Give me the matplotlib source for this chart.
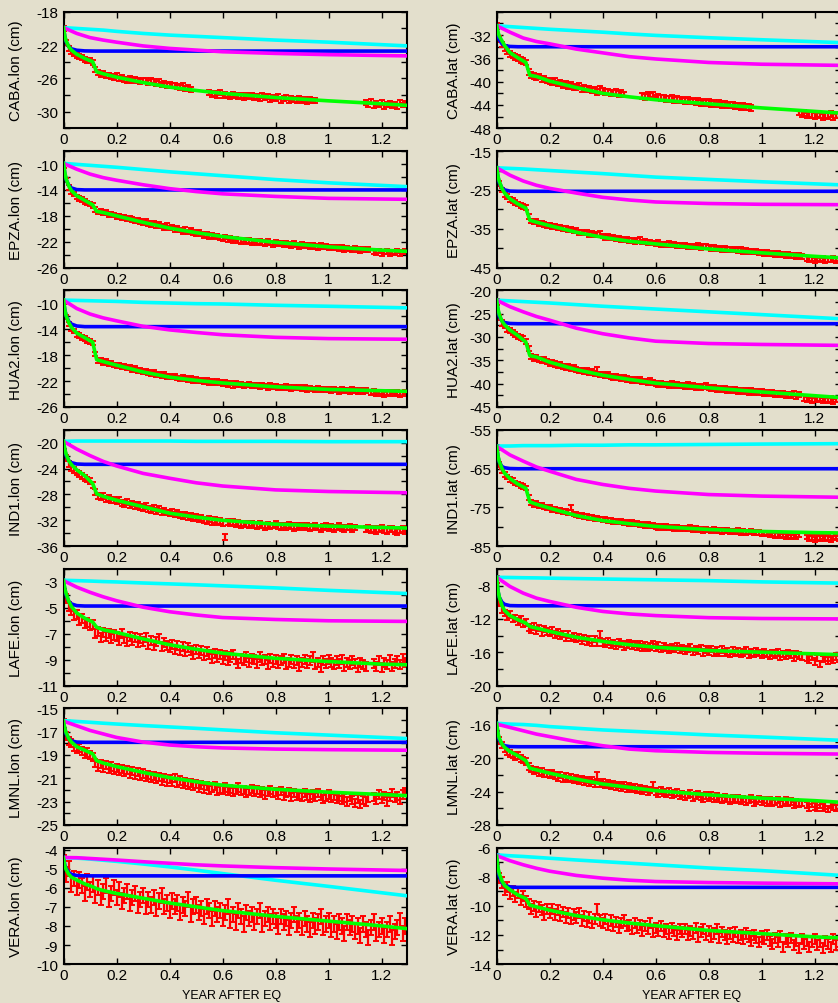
import numpy as np
import matplotlib.pyplot as plt
from matplotlib.ticker import MultipleLocator

plt.rcParams['font.family'] = ['Liberation Sans', 'DejaVu Sans']
plt.rcParams['axes.unicode_minus'] = False

BG = '#e3dfcc'

STATIONS = ['CABA', 'EPZA', 'HUA2', 'IND1', 'LAFE', 'LMNL', 'VERA']

# time grids of the model curves (year after EQ)
t_slow = [0, 0.05, 0.1, 0.15, 0.2, 0.3, 0.4, 0.5, 0.6, 0.8, 1.0, 1.3]
t_fast = [0, 0.005, 0.01, 0.02, 0.03, 0.05, 0.08, 0.12, 1.3]
t_fit = [0, 0.005, 0.01, 0.02, 0.03, 0.05, 0.08, 0.11, 0.125, 0.15, 0.2,
         0.3, 0.4, 0.5, 0.6, 0.8, 1.0, 1.2, 1.3]

xtick_vals = [0, 0.2, 0.4, 0.6, 0.8, 1.0, 1.2]
xtick_labels = ['0', '0.2', '0.4', '0.6', '0.8', '1', '1.2']

# ---------------- CABA ----------------
caba_lon_cyan = [-19.9, -20.0, -20.1, -20.2, -20.35, -20.6, -20.8, -20.95, -21.1, -21.4, -21.65, -22.1]
caba_lon_mag = [-19.9, -20.6, -21.1, -21.4, -21.65, -22.1, -22.4, -22.6, -22.8, -23.0, -23.15, -23.3]
caba_lon_blue = [-19.9, -21.0, -21.6, -22.2, -22.45, -22.62, -22.7, -22.72, -22.72]
caba_lon_fit = [-19.9, -20.9, -21.5, -22.2, -22.6, -23.1, -23.6, -24.0, -25.2, -25.45, -25.85,
                -26.5, -27.05, -27.45, -27.8, -28.3, -28.7, -29.05, -29.25]
caba_lon_start = [0.0, 0.55, 1.14]
caba_lon_obs = [
    [-20.0, -21.7, -22.4, -22.8, -23.0, -23.3, -23.4, -23.5, -23.7, -23.8,
     -23.9, -24.1, -24.9, -25.3, -25.5, -25.4, -25.7, -25.6, -25.8, -25.9,
     -25.7, -26.0, -25.9, -26.1, -26.2, -26.0, -26.3, -26.1, -26.2, -26.4,
     -26.2, -26.3, -26.5, -26.3, -26.4, -26.6, -26.4, -26.7, -26.6, -26.8,
     -26.7, -26.9, -26.8, -27.0, -27.1, -26.9, -27.2, -27.1, -27.3],
    [-27.7, -27.9, -27.8, -28.0, -27.7, -28.1, -27.9, -28.0, -28.2, -27.9,
     -28.1, -28.2, -28.0, -28.3, -28.1, -28.2, -28.0, -28.3, -28.2, -28.4,
     -28.1, -28.3, -28.2, -28.5, -28.3, -28.4, -28.2, -28.6, -28.4, -28.3,
     -28.6, -28.4, -28.5, -28.7, -28.4, -28.6, -28.5, -28.8, -28.5, -28.7, -28.6],
    [-28.9, -29.1, -28.8, -29.3, -29.0, -29.2, -28.9, -29.4, -29.1, -29.0,
     -29.3, -29.1, -29.4, -28.9, -29.2, -29.0],
]
caba_lon_err = 0.3

caba_lat_cyan = [-30.4, -30.55, -30.7, -30.85, -31.0, -31.25, -31.5, -31.8, -32.05, -32.45, -32.8, -33.3]
caba_lat_mag = [-30.4, -31.5, -32.5, -33.1, -33.5, -34.4, -35.05, -35.7, -36.1, -36.7, -37.0, -37.2]
caba_lat_blue = [-30.4, -32.0, -32.8, -33.5, -33.8, -33.95, -34.0, -34.0, -34.0]
caba_lat_fit = [-30.4, -31.5, -32.2, -33.0, -33.8, -35.0, -35.9, -36.7, -38.9, -39.1, -39.9,
                -41.0, -42.0, -42.6, -43.1, -43.8, -44.5, -45.1, -45.4]
caba_lat_start = [0.0, 0.55, 1.14]
caba_lat_obs = [
    [-30.5, -32.6, -33.6, -34.2, -34.8, -35.2, -35.5, -35.8, -36.0, -36.3,
     -36.4, -36.7, -38.3, -38.9, -39.0, -39.2, -39.1, -39.5, -39.6, -39.8,
     -39.9, -40.1, -39.9, -40.3, -40.2, -40.5, -40.4, -40.7, -40.6, -40.9,
     -41.0, -40.8, -41.2, -41.1, -41.3, -41.2, -41.5, -41.4, -41.7, -41.3,
     -41.6, -41.8, -41.7, -41.9, -42.0, -41.8, -42.1, -42.0, -42.2],
    [-42.4, -42.6, -42.3, -42.5, -42.2, -42.7, -42.6, -42.8, -42.7, -42.9,
     -43.0, -42.8, -43.1, -43.0, -43.2, -43.1, -43.3, -43.2, -43.4, -43.3,
     -43.5, -43.3, -43.6, -43.4, -43.7, -43.5, -43.8, -43.6, -43.9, -43.7,
     -44.0, -43.8, -44.1, -44.0, -43.9, -44.2, -44.1, -44.3, -44.2, -44.4,
     -44.3, -44.5],
    [-45.3, -45.6, -45.4, -45.8, -45.5, -45.7, -45.9, -45.6, -45.8, -46.0,
     -45.7, -45.9, -45.6, -46.0, -45.8, -45.7],
]
caba_lat_err = 0.5

# ---------------- EPZA ----------------
epza_lon_cyan = [-9.9, -10.05, -10.2, -10.35, -10.5, -10.85, -11.2, -11.5, -11.8, -12.4, -12.9, -13.5]
epza_lon_mag = [-9.9, -10.8, -11.55, -12.1, -12.5, -13.2, -13.8, -14.25, -14.6, -15.0, -15.3, -15.45]
epza_lon_blue = [-9.9, -11.5, -12.4, -13.3, -13.7, -13.95, -14.0, -14.0, -14.0]
epza_lon_fit = [-9.9, -11.3, -12.3, -13.4, -14.1, -14.9, -15.6, -16.3, -17.3, -17.5, -18.0,
                -19.0, -19.9, -20.6, -21.2, -22.1, -22.8, -23.3, -23.5]
epza_lon_start = [0.0, 1.17]
epza_lon_obs = [
    [-10.3, -12.5, -13.6, -14.3, -14.6, -15.1, -15.3, -15.5, -15.8, -16.0,
     -16.2, -16.4, -17.0, -17.4, -17.3, -17.6, -17.5, -17.8, -17.7, -17.9,
     -18.1, -18.0, -18.3, -18.2, -18.5, -18.4, -18.6, -18.8, -18.7, -18.9,
     -19.1, -18.9, -19.2, -19.4, -19.1, -19.5, -19.3, -19.6, -19.8, -19.5,
     -19.9, -19.7, -20.1, -19.9, -20.2, -20.4, -20.1, -20.5, -20.3, -20.6,
     -20.7, -20.5, -20.8, -21.0, -20.9, -21.2, -21.0, -21.3, -21.1, -21.4,
     -21.5, -21.3, -21.7, -21.5, -21.9, -21.6, -21.8, -22.0, -21.7, -22.0,
     -21.8, -22.1, -21.9, -22.2, -22.0, -22.1, -22.3, -22.0, -22.2, -22.4,
     -22.1, -22.3, -22.2, -22.5, -22.3, -22.4, -22.6, -22.3, -22.5, -22.7,
     -22.4, -22.6, -22.5, -22.8, -22.6, -22.7, -22.9, -22.6, -22.8, -22.7,
     -22.9, -22.8, -23.0, -22.8, -23.1, -22.9, -23.2, -23.0, -23.1, -23.3,
     -23.0, -23.2, -23.4, -23.1, -23.3, -23.2],
    [-23.5, -23.7, -23.4, -23.8, -23.6, -23.5, -23.9, -23.6, -23.7, -23.4,
     -23.8, -23.6, -23.5],
]
epza_lon_err = 0.35

epza_lat_cyan = [-19.3, -19.45, -19.6, -19.8, -20.0, -20.4, -20.8, -21.25, -21.7, -22.3, -22.9, -23.7]
epza_lat_mag = [-19.3, -21.2, -22.7, -23.8, -24.6, -25.8, -26.9, -27.6, -28.1, -28.5, -28.7, -28.8]
epza_lat_blue = [-19.3, -21.8, -23.2, -24.5, -25.0, -25.3, -25.35, -25.35, -25.35]
epza_lat_fit = [-19.3, -21.5, -22.8, -24.6, -25.8, -27.3, -28.6, -29.7, -32.8, -33.3, -34.2,
                -35.9, -37.2, -38.2, -38.9, -40.2, -41.2, -42.1, -42.5]
epza_lat_start = [0.0, 1.17]
epza_lat_obs = [
    [-19.6, -23.4, -25.0, -26.1, -26.7, -27.4, -27.8, -28.3, -28.6, -29.0,
     -29.3, -29.5, -31.8, -33.0, -33.3, -33.2, -33.6, -33.5, -33.9, -34.1,
     -34.0, -34.4, -34.3, -34.7, -34.6, -35.0, -34.9, -35.3, -35.2, -35.6,
     -35.5, -35.9, -35.8, -36.1, -36.0, -36.4, -36.2, -36.6, -36.5, -36.3,
     -36.9, -37.2, -37.0, -37.4, -37.3, -37.6, -37.5, -37.7, -37.9, -37.6,
     -38.1, -37.9, -38.2, -38.0, -37.6, -38.4, -38.3, -38.6, -38.4, -38.7,
     -38.8, -38.6, -39.0, -38.9, -39.1, -38.8, -39.2, -39.0, -39.3, -39.2,
     -39.4, -39.3, -39.6, -39.4, -39.7, -39.5, -39.2, -39.8, -39.6, -39.4,
     -39.7, -40.0, -39.8, -40.2, -40.0, -40.3, -40.1, -40.4, -40.2, -40.5,
     -40.3, -40.6, -40.4, -40.8, -40.6, -40.9, -40.7, -41.0, -40.8, -41.1,
     -41.0, -41.3, -41.1, -41.5, -41.3, -41.6, -41.4, -41.7, -41.5, -41.8,
     -41.7, -42.0, -41.8, -42.2, -41.9, -42.1],
    [-42.6, -42.9, -42.7, -43.1, -42.8, -43.0, -42.7, -43.2, -42.9, -43.0,
     -42.6, -43.1, -42.8],
]
epza_lat_err = 0.6

# ---------------- HUA2 ----------------
hua2_lon_cyan = [-9.5, -9.55, -9.6, -9.65, -9.7, -9.85, -9.95, -10.05, -10.1, -10.3, -10.45, -10.7]
hua2_lon_mag = [-9.5, -10.8, -11.65, -12.25, -12.7, -13.55, -14.1, -14.5, -14.85, -15.25, -15.45, -15.55]
hua2_lon_blue = [-9.5, -11.0, -11.9, -12.8, -13.2, -13.5, -13.6, -13.6, -13.6]
hua2_lon_fit = [-9.5, -11.0, -11.9, -13.0, -13.7, -14.6, -15.3, -16.0, -18.7, -19.0, -19.55,
                -20.6, -21.4, -21.9, -22.3, -22.9, -23.3, -23.5, -23.6]
hua2_lon_start = [0.0, 1.16]
hua2_lon_obs = [
    [-9.8, -12.1, -13.2, -13.9, -14.3, -14.8, -15.0, -15.3, -15.4, -15.7,
     -15.9, -16.1, -17.8, -18.9, -18.8, -19.1, -19.0, -19.3, -19.2, -19.5,
     -19.6, -19.5, -19.8, -19.7, -20.0, -19.9, -20.2, -20.1, -20.4, -20.3,
     -20.6, -20.5, -20.7, -20.9, -20.7, -21.0, -20.9, -21.2, -21.0, -21.3,
     -21.2, -21.4, -21.3, -21.5, -21.7, -21.4, -21.6, -21.8, -21.6, -21.9,
     -21.8, -22.0, -21.9, -22.1, -21.9, -22.2, -22.0, -22.3, -22.1, -22.2,
     -22.4, -22.2, -22.5, -22.3, -22.7, -22.4, -22.6, -22.5, -22.7, -22.6,
     -22.5, -22.8, -22.6, -22.7, -22.9, -22.6, -22.8, -23.0, -22.7, -22.9,
     -22.8, -23.0, -22.9, -23.1, -22.8, -23.0, -23.2, -22.9, -23.1, -23.0,
     -23.2, -23.0, -23.3, -23.1, -23.2, -23.4, -23.1, -23.3, -23.2, -23.4,
     -23.3, -23.5, -23.2, -23.4, -23.6, -23.3, -23.5, -23.4, -23.6, -23.3,
     -23.5, -23.7, -23.4, -23.6, -23.5],
    [-23.8, -23.6, -24.0, -23.7, -23.9, -24.1, -23.8, -23.9, -23.7, -24.0,
     -23.8, -24.1, -23.9, -23.7],
]
hua2_lon_err = 0.35

hua2_lat_cyan = [-22.1, -22.25, -22.4, -22.55, -22.7, -23.05, -23.4, -23.7, -24.0, -24.6, -25.2, -26.1]
hua2_lat_mag = [-22.1, -23.5, -24.6, -25.6, -26.4, -28.1, -29.3, -30.2, -30.9, -31.4, -31.6, -31.8]
hua2_lat_blue = [-22.1, -24.3, -25.6, -26.6, -26.9, -27.1, -27.15, -27.15, -27.15]
hua2_lat_fit = [-22.1, -24.0, -25.2, -26.6, -27.4, -28.5, -29.7, -31.1, -34.0, -34.3, -35.4,
                -37.0, -38.2, -39.1, -39.9, -40.9, -41.8, -42.6, -43.0]
hua2_lat_start = [0.0, 1.16]
hua2_lat_obs = [
    [-22.5, -25.8, -27.0, -27.6, -28.3, -28.6, -29.1, -29.4, -29.8, -30.1,
     -30.4, -30.9, -32.5, -34.2, -34.5, -34.4, -34.8, -35.1, -34.9, -35.3,
     -35.6, -35.4, -35.8, -36.1, -35.9, -36.3, -36.5, -36.4, -36.8, -36.6,
     -37.0, -37.2, -37.1, -37.4, -37.3, -37.6, -37.5, -37.8, -37.0, -38.0,
     -38.1, -38.3, -38.0, -38.4, -38.6, -38.5, -38.7, -38.9, -38.6, -39.0,
     -39.1, -39.3, -39.2, -39.4, -39.2, -39.6, -39.5, -39.7, -39.3, -39.8,
     -39.9, -40.1, -40.0, -40.2, -40.1, -40.3, -40.0, -40.4, -40.2, -40.5,
     -40.4, -40.6, -40.3, -40.7, -40.5, -40.8, -40.6, -40.9, -40.7, -40.5,
     -40.9, -41.1, -40.8, -41.2, -41.0, -41.3, -41.1, -41.4, -41.2, -41.5,
     -41.3, -41.6, -41.4, -41.7, -41.5, -41.8, -41.6, -41.9, -41.7, -42.0,
     -41.8, -42.1, -41.9, -42.2, -42.0, -42.3, -42.1, -42.4, -42.2, -42.5,
     -42.3, -42.6, -42.2, -42.7, -42.4],
    [-43.1, -43.4, -43.2, -43.6, -43.3, -43.5, -43.2, -43.7, -43.4, -43.6,
     -43.3, -43.8, -43.5, -43.4],
]
hua2_lat_err = 0.55

# ---------------- IND1 ----------------
ind1_lon_cyan = [-19.8, -19.75, -19.75, -19.75, -19.75, -19.75, -19.75, -19.8, -19.8, -19.8, -19.85, -19.85]
ind1_lon_mag = [-19.8, -21.0, -22.0, -22.9, -23.6, -24.75, -25.5, -26.2, -26.7, -27.3, -27.55, -27.75]
ind1_lon_blue = [-19.8, -21.2, -22.0, -22.8, -23.1, -23.3, -23.35, -23.35, -23.35]
ind1_lon_fit = [-19.8, -21.0, -21.8, -22.8, -23.4, -24.2, -25.1, -26.3, -27.9, -28.3, -28.9,
                -29.9, -30.9, -31.5, -32.0, -32.6, -32.9, -33.1, -33.2]
ind1_lon_start = [0.0, 1.14]
ind1_lon_obs = [
    [-20.6, -22.4, -23.3, -23.9, -24.2, -24.6, -24.9, -25.1, -25.5, -25.7,
     -25.9, -26.5, -27.6, -28.2, -28.4, -28.3, -28.7, -28.6, -28.9, -28.8,
     -29.1, -28.9, -29.3, -29.5, -29.2, -29.6, -29.4, -29.8, -29.6, -29.9,
     -30.1, -29.8, -30.2, -30.4, -30.1, -30.5, -30.3, -30.7, -30.5, -30.8,
     -30.9, -30.7, -31.1, -30.9, -31.2, -31.4, -31.1, -31.5, -31.3, -31.6,
     -31.5, -31.8, -31.6, -31.9, -32.1, -31.8, -32.2, -32.0, -32.3, -32.1,
     -32.4, -34.6, -32.3, -32.5, -32.2, -32.6, -32.4, -32.7, -32.5, -32.6,
     -32.8, -32.5, -32.7, -32.9, -32.6, -32.8, -33.0, -32.7, -32.9, -32.8,
     -32.6, -32.9, -33.1, -32.8, -33.0, -32.7, -32.9, -33.2, -32.9, -33.0,
     -32.8, -33.1, -32.9, -33.2, -33.0, -32.8, -33.1, -33.3, -33.0, -32.9,
     -33.2, -33.0, -33.3, -33.1, -32.9, -33.2, -33.4, -33.1, -33.0, -33.3,
     -33.1],
    [-33.4, -33.2, -33.5, -33.3, -33.6, -33.4, -33.2, -33.5, -33.7, -33.4,
     -33.3, -33.6, -33.8, -33.5, -33.3, -33.6],
]
ind1_lon_err = 0.45

ind1_lat_cyan = [-59.2, -59.2, -59.1, -59.1, -59.1, -59.0, -59.0, -58.9, -58.9, -58.8, -58.7, -58.6]
ind1_lat_mag = [-59.3, -61.5, -63.1, -64.6, -65.7, -67.8, -69.1, -70.1, -70.8, -71.7, -72.1, -72.4]
ind1_lat_blue = [-59.3, -62.0, -63.4, -64.5, -64.8, -65.0, -65.05, -65.05, -65.05]
ind1_lat_fit = [-59.3, -61.8, -63.2, -65.0, -66.2, -67.6, -69.0, -70.1, -73.6, -74.2, -75.2,
                -77.1, -78.4, -79.2, -79.9, -80.7, -81.2, -81.5, -81.6]
ind1_lat_start = [0.0, 1.17]
ind1_lat_obs = [
    [-59.6, -64.0, -65.6, -66.5, -67.2, -67.8, -68.1, -68.7, -69.0, -69.3,
     -69.6, -70.0, -72.4, -73.8, -74.3, -74.0, -74.6, -74.5, -74.9, -75.2,
     -75.0, -75.5, -75.4, -75.8, -75.7, -76.1, -76.0, -76.4, -75.1, -76.7,
     -76.9, -77.2, -77.0, -77.4, -77.3, -77.6, -77.5, -77.9, -77.7, -78.0,
     -78.2, -78.0, -78.4, -78.3, -78.6, -78.5, -78.8, -78.6, -79.0, -78.8,
     -79.1, -78.9, -79.3, -79.2, -79.5, -79.3, -79.6, -79.4, -79.8, -79.6,
     -79.9, -80.1, -79.8, -80.2, -80.0, -80.3, -80.1, -80.4, -80.2, -80.5,
     -80.3, -80.6, -80.4, -80.1, -80.7, -80.5, -80.8, -80.6, -80.9, -80.7,
     -80.8, -81.0, -80.7, -81.1, -80.9, -81.2, -81.0, -80.8, -81.3, -81.1,
     -81.2, -81.0, -81.4, -81.2, -81.5, -81.3, -81.1, -81.6, -81.4, -81.5,
     -81.7, -81.9, -81.6, -82.1, -81.8, -82.3, -82.0, -82.4, -82.1, -82.5,
     -82.3, -82.6, -82.2, -82.5, -82.1],
    [-82.6, -83.0, -82.7, -83.2, -82.8, -83.1, -82.5, -83.0, -82.7, -83.3,
     -82.9, -82.6, -83.0],
]
ind1_lat_err = 0.6

# ---------------- LAFE ----------------
lafe_lon_cyan = [-2.87, -2.9, -2.93, -2.97, -3.0, -3.08, -3.15, -3.22, -3.3, -3.46, -3.65, -3.9]
lafe_lon_mag = [-2.9, -3.4, -3.8, -4.15, -4.45, -4.95, -5.3, -5.55, -5.75, -5.9, -6.0, -6.05]
lafe_lon_blue = [-2.9, -3.6, -4.0, -4.5, -4.7, -4.83, -4.86, -4.86, -4.86]
lafe_lon_fit = [-2.9, -3.5, -3.9, -4.5, -4.9, -5.4, -5.8, -6.1, -6.5, -6.7, -6.9,
                -7.4, -7.85, -8.2, -8.5, -8.9, -9.15, -9.35, -9.4]
lafe_lon_start = [0.0, 1.17]
lafe_lon_obs = [
    [-3.2, -4.3, -4.9, -5.2, -5.6, -5.5, -6.0, -5.8, -6.2, -6.1,
     -6.4, -6.3, -7.0, -6.8, -7.3, -6.9, -7.2, -7.0, -7.4, -7.1,
     -7.2, -7.5, -7.0, -7.4, -7.6, -7.2, -7.5, -7.3, -7.7, -7.4,
     -7.6, -7.3, -7.8, -7.5, -7.9, -7.6, -7.4, -8.0, -7.7, -7.9,
     -8.1, -7.8, -8.2, -7.9, -8.3, -8.0, -8.4, -8.1, -8.3, -8.6,
     -8.2, -8.5, -8.3, -8.7, -8.4, -8.6, -8.9, -8.5, -8.8, -8.6,
     -9.0, -8.7, -9.1, -8.8, -8.6, -9.0, -9.3, -8.9, -9.1, -8.8,
     -9.2, -8.9, -9.0, -9.3, -8.8, -9.1, -9.0, -9.4, -8.9, -9.2,
     -9.0, -9.3, -9.1, -8.9, -9.4, -9.2, -9.0, -9.3, -9.1, -9.5,
     -9.2, -9.0, -9.3, -9.1, -8.8, -9.4, -9.2, -9.6, -9.1, -9.3,
     -9.0, -9.2, -9.4, -9.1, -9.3, -9.0, -9.5, -9.2, -9.4, -9.1,
     -9.3, -9.6, -9.2, -9.4, -9.5],
    [-9.3, -9.5, -9.1, -9.6, -9.2, -9.4, -9.0, -9.5, -9.3, -9.1,
     -9.4, -8.9, -9.2],
]
lafe_lon_err = 0.35

lafe_lat_cyan = [-7.0, -7.02, -7.05, -7.07, -7.1, -7.15, -7.2, -7.25, -7.3, -7.4, -7.55, -7.7]
lafe_lat_mag = [-7.0, -8.1, -8.9, -9.5, -9.9, -10.6, -11.1, -11.4, -11.6, -11.85, -11.95, -12.0]
lafe_lat_blue = [-7.0, -8.7, -9.4, -10.0, -10.25, -10.4, -10.42, -10.42, -10.42]
lafe_lat_fit = [-7.0, -8.6, -9.4, -10.4, -11.0, -11.6, -12.1, -12.5, -12.9, -13.1, -13.5,
                -14.2, -14.7, -15.1, -15.4, -15.8, -16.0, -16.2, -16.3]
lafe_lat_start = [0.0, 1.17]
lafe_lat_obs = [
    [-7.3, -10.0, -10.9, -11.3, -11.7, -11.5, -12.0, -11.9, -12.3, -12.1,
     -12.6, -12.4, -13.0, -13.3, -12.9, -13.4, -13.1, -13.6, -13.2, -13.5,
     -13.7, -13.4, -13.9, -13.6, -14.0, -13.8, -14.2, -13.9, -14.3, -14.1,
     -14.4, -14.2, -14.6, -14.3, -14.7, -14.5, -14.8, -14.4, -14.9, -13.9,
     -14.8, -15.0, -14.7, -15.1, -14.9, -15.2, -14.8, -15.0, -15.3, -15.1,
     -14.9, -15.2, -15.0, -15.3, -15.1, -15.4, -15.2, -15.5, -15.3, -15.1,
     -15.4, -15.2, -15.6, -15.3, -15.5, -15.7, -15.4, -15.6, -15.3, -15.7,
     -15.5, -15.8, -15.6, -15.4, -15.9, -15.6, -15.8, -15.5, -16.0, -15.7,
     -15.9, -15.6, -16.0, -15.8, -16.1, -15.7, -16.0, -15.9, -16.2, -15.8,
     -16.1, -15.9, -16.2, -16.0, -15.8, -16.3, -16.0, -16.2, -15.9, -16.1,
     -16.3, -16.0, -16.2, -16.4, -16.1, -16.3, -16.0, -16.5, -16.2, -16.4,
     -16.1, -16.3, -16.6, -16.2, -16.4, -16.5],
    [-16.6, -16.9, -16.5, -17.1, -16.7, -17.4, -16.8, -16.6, -17.0, -16.7,
     -16.9, -16.5, -16.8],
]
lafe_lat_err = 0.4

# ---------------- LMNL ----------------
lmnl_lon_cyan = [-16.05, -16.13, -16.2, -16.28, -16.35, -16.48, -16.6, -16.72, -16.85, -17.1, -17.3, -17.6]
lmnl_lon_mag = [-16.1, -16.5, -16.9, -17.2, -17.5, -17.9, -18.15, -18.3, -18.4, -18.5, -18.55, -18.6]
lmnl_lon_blue = [-16.1, -16.8, -17.2, -17.6, -17.8, -17.9, -17.92, -17.92, -17.92]
lmnl_lon_fit = [-16.1, -16.7, -17.1, -17.6, -17.9, -18.3, -18.6, -18.9, -19.5, -19.7, -20.0,
                -20.5, -20.95, -21.3, -21.6, -21.95, -22.2, -22.4, -22.5]
lmnl_lon_start = [0.0, 1.17]
lmnl_lon_obs = [
    [-16.3, -17.4, -17.8, -18.0, -18.3, -18.5, -18.4, -18.7, -18.9, -18.8,
     -19.0, -19.2, -19.7, -20.0, -19.8, -20.1, -19.9, -20.2, -20.0, -20.3,
     -20.1, -20.4, -20.2, -20.5, -20.3, -20.6, -20.4, -20.7, -20.5, -20.8,
     -20.6, -20.9, -20.7, -21.0, -20.8, -21.1, -20.9, -21.2, -21.0, -21.3,
     -21.1, -21.3, -21.0, -21.4, -21.2, -21.5, -21.3, -21.6, -21.4, -21.7,
     -21.5, -21.8, -21.6, -21.9, -21.7, -22.0, -21.8, -21.7, -22.1, -21.9,
     -22.0, -21.8, -22.1, -21.9, -22.2, -22.0, -21.8, -22.1, -22.0, -22.3,
     -22.1, -21.9, -22.2, -22.0, -22.3, -22.1, -22.4, -22.2, -22.0, -22.3,
     -22.2, -22.4, -22.1, -22.5, -22.3, -22.2, -22.6, -22.3, -22.5, -22.4,
     -22.6, -22.3, -22.5, -22.7, -22.4, -22.6, -22.3, -22.5, -22.8, -22.6,
     -22.4, -22.7, -22.5, -22.8, -22.6, -22.9, -22.7, -23.0, -22.6, -22.9,
     -23.1, -22.8, -23.2, -22.9, -23.0, -22.7],
    [-22.6, -22.9, -22.4, -22.8, -22.5, -23.0, -22.6, -22.3, -22.7, -22.5,
     -22.9, -22.4, -22.2],
]
lmnl_lon_err = 0.35

lmnl_lat_cyan = [-15.8, -15.9, -15.95, -16.05, -16.2, -16.4, -16.6, -16.75, -16.9, -17.2, -17.45, -17.85]
lmnl_lat_mag = [-15.9, -16.3, -16.7, -17.1, -17.4, -18.0, -18.5, -18.9, -19.1, -19.3, -19.4, -19.5]
lmnl_lat_blue = [-15.9, -17.2, -17.8, -18.3, -18.5, -18.6, -18.62, -18.62, -18.62]
lmnl_lat_fit = [-15.9, -17.0, -17.6, -18.3, -18.7, -19.2, -19.7, -20.3, -21.2, -21.4, -21.8,
                -22.5, -23.1, -23.5, -23.9, -24.4, -24.8, -25.1, -25.3]
lmnl_lat_start = [0.0, 1.17]
lmnl_lat_obs = [
    [-16.3, -17.9, -18.4, -18.9, -19.2, -19.4, -19.6, -19.8, -19.7, -20.0,
     -20.2, -20.4, -21.0, -21.3, -21.5, -21.4, -21.7, -21.6, -21.9, -21.8,
     -22.0, -21.8, -22.1, -22.3, -22.0, -22.4, -22.2, -22.5, -22.3, -22.6,
     -22.4, -22.7, -22.5, -22.8, -22.6, -22.9, -22.7, -23.0, -22.1, -23.1,
     -22.9, -23.2, -23.0, -23.3, -23.1, -23.4, -23.2, -23.5, -23.3, -23.6,
     -23.4, -23.6, -23.5, -23.8, -23.6, -23.9, -23.7, -24.0, -23.8, -23.3,
     -24.0, -24.2, -23.9, -24.1, -24.3, -24.0, -24.4, -24.2, -24.1, -24.5,
     -24.3, -24.6, -24.4, -24.2, -24.7, -24.5, -24.3, -24.6, -24.8, -24.5,
     -24.7, -24.5, -24.9, -24.6, -24.8, -25.0, -24.7, -24.9, -25.1, -24.8,
     -25.0, -24.8, -25.1, -24.9, -25.2, -25.0, -24.8, -25.3, -25.1, -24.9,
     -25.2, -25.0, -25.3, -25.1, -25.4, -25.2, -25.0, -25.5, -25.3, -25.1,
     -25.4, -25.2, -25.6, -25.3, -25.5, -25.4],
    [-25.6, -25.9, -25.5, -25.8, -26.0, -25.6, -25.9, -25.7, -26.1, -25.6,
     -25.8, -26.0, -25.7],
]
lmnl_lat_err = 0.4

# ---------------- VERA ----------------
vera_lon_cyan = [-4.42, -4.45, -4.5, -4.56, -4.62, -4.76, -4.91, -5.08, -5.26, -5.61, -5.93, -6.43]
vera_lon_mag = [-4.42, -4.43, -4.47, -4.51, -4.55, -4.64, -4.72, -4.8, -4.86, -4.95, -5.02, -5.1]
vera_lon_blue = [-4.42, -4.8, -5.0, -5.2, -5.3, -5.36, -5.38, -5.38, -5.38]
vera_lon_fit = [-4.45, -4.85, -5.05, -5.3, -5.45, -5.6, -5.8, -5.95, -6.05, -6.15, -6.3,
                -6.55, -6.8, -7.0, -7.2, -7.5, -7.75, -8.0, -8.15]
vera_lon_start = [0.0]
vera_lon_obs = [
    [-4.7, -5.3, -5.0, -5.8, -5.5, -6.0, -5.6, -5.9, -6.3, -5.7,
     -6.1, -5.8, -6.4, -6.0, -6.5, -6.2, -5.9, -6.6, -6.3, -6.0,
     -6.5, -6.1, -6.7, -6.4, -6.2, -6.8, -6.5, -6.3, -6.9, -6.6,
     -6.4, -7.0, -6.6, -6.9, -6.5, -7.1, -6.7, -6.4, -7.0, -6.8,
     -7.2, -6.7, -7.0, -6.8, -7.3, -6.9, -7.1, -6.6, -7.4, -7.0,
     -6.9, -7.3, -7.1, -7.5, -7.0, -7.2, -7.6, -7.1, -7.4, -7.2,
     -7.6, -7.3, -7.0, -7.7, -7.4, -7.8, -7.2, -7.5, -7.9, -7.3,
     -7.6, -7.4, -7.8, -7.5, -7.2, -7.9, -7.6, -7.4, -7.8, -7.5,
     -7.7, -8.0, -7.5, -7.8, -7.6, -8.1, -7.7, -7.4, -7.9, -7.7,
     -8.1, -7.6, -7.9, -8.2, -7.7, -8.0, -7.8, -7.5, -8.1, -7.9,
     -7.7, -8.2, -7.9, -8.3, -7.8, -8.0, -8.4, -7.8, -8.1, -7.9,
     -8.3, -8.0, -8.5, -7.9, -8.2, -8.6, -8.1, -7.8, -8.4, -8.2,
     -8.0, -8.5, -8.2, -7.9, -8.6, -8.3, -8.1, -7.7, -8.4, -8.0],
]
vera_lon_err = 0.4

vera_lat_cyan = [-6.5, -6.56, -6.61, -6.67, -6.73, -6.85, -6.96, -7.07, -7.18, -7.4, -7.58, -7.91]
vera_lat_mag = [-6.55, -6.9, -7.18, -7.42, -7.62, -7.91, -8.1, -8.24, -8.33, -8.4, -8.44, -8.49]
vera_lat_blue = [-6.55, -7.5, -8.0, -8.4, -8.6, -8.7, -8.73, -8.73, -8.73]
vera_lat_fit = [-6.6, -7.4, -7.8, -8.3, -8.6, -8.9, -9.25, -9.5, -9.95, -10.07, -10.3,
                -10.67, -10.96, -11.18, -11.36, -11.69, -11.91, -12.13, -12.2]
vera_lat_start = [0.0]
vera_lat_obs = [
    [-6.8, -8.1, -8.4, -8.9, -8.7, -9.2, -9.0, -9.4, -9.1, -9.6,
     -9.3, -9.7, -9.9, -10.2, -10.0, -10.4, -10.1, -10.3, -10.6, -10.2,
     -10.5, -10.2, -10.6, -10.3, -10.7, -10.4, -10.8, -10.5, -10.9, -10.6,
     -10.8, -10.5, -11.0, -10.7, -11.1, -10.8, -11.2, -10.9, -10.2, -11.0,
     -11.2, -10.9, -11.3, -11.0, -11.4, -11.1, -11.5, -11.2, -11.0, -11.4,
     -11.3, -11.6, -11.2, -11.5, -11.3, -11.7, -11.4, -11.6, -11.2, -11.8,
     -11.5, -11.7, -11.4, -11.8, -11.6, -11.9, -11.5, -11.7, -12.0, -11.6,
     -11.8, -11.6, -12.0, -11.7, -11.9, -11.5, -12.1, -11.8, -11.6, -12.0,
     -11.7, -12.1, -11.9, -11.6, -12.2, -11.8, -12.0, -12.3, -11.9, -12.1,
     -11.8, -12.2, -12.0, -12.3, -11.9, -12.1, -12.4, -12.0, -12.2, -12.5,
     -12.1, -12.3, -12.0, -12.4, -12.6, -12.2, -12.5, -12.1, -12.8, -12.3,
     -12.5, -12.2, -12.7, -12.4, -12.9, -12.3, -12.6, -12.4, -12.8, -12.5,
     -12.3, -12.7, -12.5, -12.9, -12.4, -12.6, -12.8, -12.3, -12.7, -12.5],
]
vera_lat_err = 0.35

# y axis: (limits, labelled ticks, minor tick step)
yaxis = {
    'CABA.lon': ((-32, -18), [-18, -22, -26, -30], 2),
    'CABA.lat': ((-48, -28), [-32, -36, -40, -44, -48], 2),
    'EPZA.lon': ((-26, -8), [-10, -14, -18, -22, -26], 2),
    'EPZA.lat': ((-45, -15), [-15, -25, -35, -45], 5),
    'HUA2.lon': ((-26, -8), [-10, -14, -18, -22, -26], 2),
    'HUA2.lat': ((-45, -20), [-20, -25, -30, -35, -40, -45], 2.5),
    'IND1.lon': ((-36, -18), [-20, -24, -28, -32, -36], 2),
    'IND1.lat': ((-85, -55), [-55, -65, -75, -85], 5),
    'LAFE.lon': ((-11, -2), [-3, -5, -7, -9, -11], 1),
    'LAFE.lat': ((-20, -6), [-8, -12, -16, -20], 2),
    'LMNL.lon': ((-25, -15), [-15, -17, -19, -21, -23, -25], 1),
    'LMNL.lat': ((-28, -14), [-16, -20, -24, -28], 2),
    'VERA.lon': ((-10, -3.9), [-4, -5, -6, -7, -8, -9, -10], None),
    'VERA.lat': ((-14, -6), [-6, -8, -10, -12, -14], 1),
}

g = globals()

W, H = 838, 1004
fig = plt.figure(figsize=(W / 100, H / 100), dpi=100, facecolor=BG)

for row, st in enumerate(STATIONS):
    bottom_px = 129.3 + 139.3 * row
    for col, comp in enumerate(['lon', 'lat']):
        key = f'{st.lower()}_{comp}'
        name = f'{st}.{comp}'
        left_px = [63.5, 496.7][col]
        ax = fig.add_axes([left_px / W, 1 - bottom_px / H, 343.8 / W, 116.5 / H])
        ax.set_facecolor(BG)

        # GPS observations with error bars
        for t0, seg in zip(g[key + '_start'], g[key + '_obs']):
            t = t0 + 0.01 * np.arange(len(seg))
            ax.errorbar(t, seg, yerr=g[key + '_err'], fmt='none', ecolor='red',
                        elinewidth=1.6, capsize=2.0, capthick=1.4, zorder=2)

        ax.plot(t_slow, g[key + '_cyan'], color='#00ffff', lw=2.6, zorder=3)
        ax.plot(t_fast, g[key + '_blue'], color='#0000ff', lw=2.6, zorder=4)
        ax.plot(t_slow, g[key + '_mag'], color='#ff00ff', lw=2.6, zorder=5)
        ax.plot(t_fit, g[key + '_fit'], color='#00ff00', lw=2.6, zorder=6)

        ax.set_xlim(0, 1.297)
        ax.set_xticks(xtick_vals)
        ax.set_xticklabels(xtick_labels)

        ylim, yt, ystep = yaxis[name]
        ax.set_ylim(*ylim)
        ax.set_yticks(yt)
        ax.set_yticklabels([str(v) for v in yt])
        if ystep:
            ax.yaxis.set_minor_locator(MultipleLocator(ystep))

        ax.tick_params(which='both', direction='in', top=True, right=True,
                       length=4, width=1, labelsize=11, colors='black')
        ax.tick_params(axis='x', pad=3)
        ax.tick_params(axis='y', pad=4)
        for sp in ax.spines.values():
            sp.set_linewidth(1.5)

        ax.set_ylabel(f'{name} (cm)', fontsize=11)
        ax.yaxis.set_label_coords([-0.119, -0.105][col], 0.5)
        if row == len(STATIONS) - 1:
            ax.set_xlabel('YEAR AFTER EQ', fontsize=9)
            ax.xaxis.set_label_coords([0.49, 0.568][col], -0.215)

fig.savefig('out.png', dpi=100, facecolor=BG)
